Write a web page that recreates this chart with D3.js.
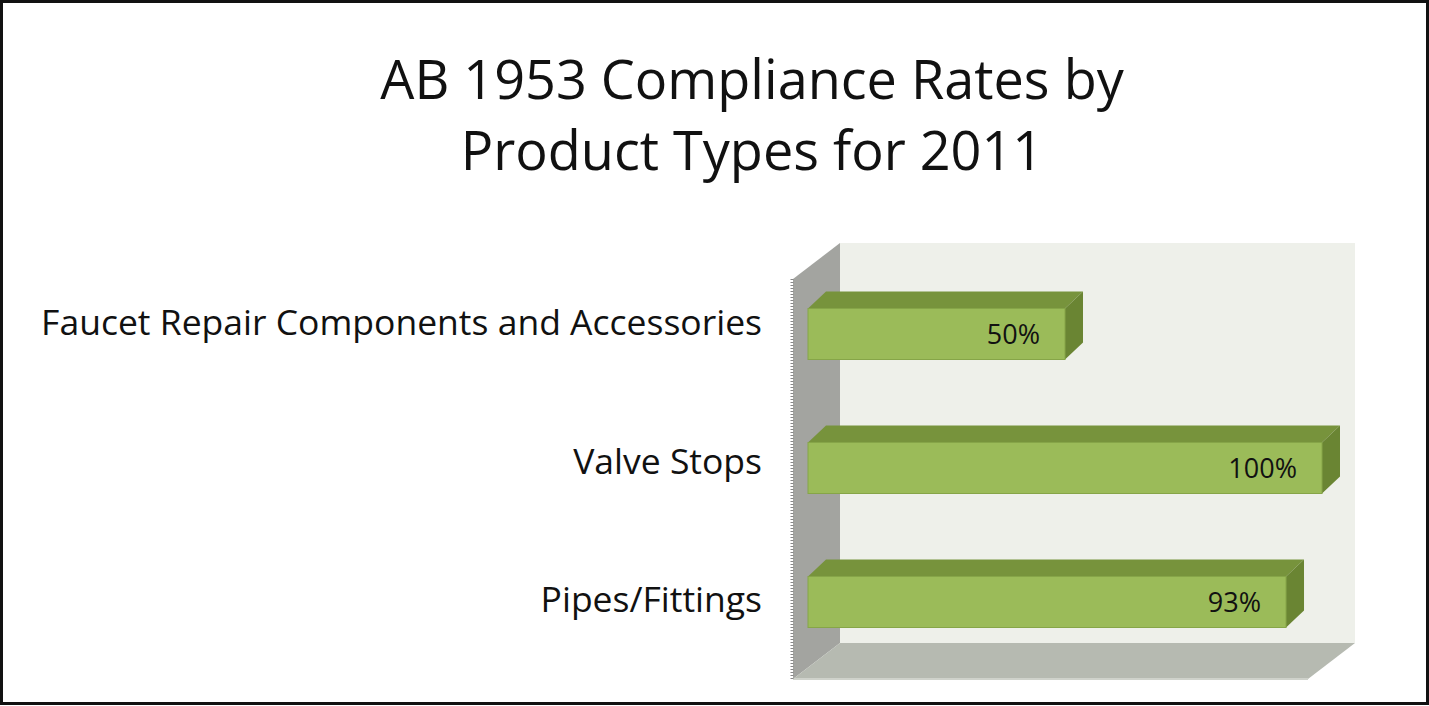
<!DOCTYPE html>
<html>
<head>
<meta charset="utf-8">
<script src="https://cdn.jsdelivr.net/npm/d3@7"></script>
<style>
  body { margin: 0; background: #fff; }
  text { font-family: "Open Sans", sans-serif; }
</style>
</head>
<body>
<script>
// chart data
var titleLines = ['AB 1953 Compliance Rates by', 'Product Types for 2011'];
var categories = ['Faucet Repair Components and Accessories', 'Valve Stops', 'Pipes/Fittings'];
var rates = [0.50, 1.00, 0.93];
var rateLabels = ['50%', '100%', '93%'];

var W = 1429, H = 706;

var svg = d3.select('body').append('svg')
  .attr('width', W)
  .attr('height', H);

// outer frame
svg.append('rect')
  .attr('x', 1.5).attr('y', 1.5)
  .attr('width', W - 3).attr('height', H - 4)
  .attr('fill', '#fff')
  .attr('stroke', '#111')
  .attr('stroke-width', 3);

// title
svg.selectAll('.title')
  .data(titleLines)
  .enter().append('text')
  .attr('class', 'title')
  .attr('x', 752)
  .attr('y', function(d, i){ return 99 + i * 71; })
  .attr('text-anchor', 'middle')
  .attr('font-size', 54)
  .attr('fill', '#111')
  .text(function(d){ return d; });

// scales
var x = d3.scaleLinear().domain([0, 1]).range([808, 1322]);
var y = d3.scalePoint().domain(categories).range([334, 602]);
var yLabel = d3.scalePoint().domain(categories).range([335, 612]);
var barH = 51;

// 3d box: wall depth
var wall = {left: 840, right: 1355, top: 243, bottom: 643, dx: 47, dy: 36};

// back wall
svg.append('rect')
  .attr('x', wall.left).attr('y', wall.top)
  .attr('width', wall.right - wall.left)
  .attr('height', wall.bottom - wall.top)
  .attr('fill', '#eef0ea');

// left side wall
svg.append('path')
  .attr('d', 'M' + wall.left + ',' + wall.top +
    'L' + (wall.left - wall.dx) + ',' + (wall.top + wall.dy) +
    'L' + (wall.left - wall.dx) + ',' + (wall.bottom + wall.dy) +
    'L' + wall.left + ',' + wall.bottom + 'Z')
  .attr('fill', '#a3a4a0');

// floor
svg.append('path')
  .attr('d', 'M' + wall.left + ',' + wall.bottom +
    'L' + wall.right + ',' + wall.bottom +
    'L' + (wall.right - wall.dx) + ',' + (wall.bottom + wall.dy) +
    'L' + (wall.left - wall.dx) + ',' + (wall.bottom + wall.dy) + 'Z')
  .attr('fill', '#b6bab1');
svg.append('line')
  .attr('x1', wall.left - wall.dx).attr('x2', wall.right - wall.dx)
  .attr('y1', wall.bottom + wall.dy).attr('y2', wall.bottom + wall.dy)
  .attr('stroke', '#cfd2cb').attr('stroke-width', 2);

// jagged edge of the side wall
svg.append('line')
  .attr('x1', wall.left - wall.dx - 1).attr('x2', wall.left - wall.dx - 1)
  .attr('y1', wall.top + wall.dy).attr('y2', wall.bottom + wall.dy)
  .attr('stroke', '#888')
  .attr('stroke-width', 3)
  .attr('stroke-dasharray', '1,2');

// bars
var bdx = 18, bdy = 17;
var bars = svg.selectAll('.bar')
  .data(rates)
  .enter().append('g')
  .attr('class', 'bar');

bars.append('path')
  .attr('d', function(d, i){
    var y0 = y(categories[i]) - barH / 2;
    return 'M' + x(0) + ',' + y0 + 'L' + (x(0) + bdx) + ',' + (y0 - bdy) +
      'L' + (x(d) + bdx) + ',' + (y0 - bdy) + 'L' + x(d) + ',' + y0 + 'Z';
  })
  .attr('fill', '#77933c');

bars.append('path')
  .attr('d', function(d, i){
    var y0 = y(categories[i]) - barH / 2;
    return 'M' + x(d) + ',' + y0 + 'L' + (x(d) + bdx) + ',' + (y0 - bdy) +
      'L' + (x(d) + bdx) + ',' + (y0 - bdy + barH) + 'L' + x(d) + ',' + (y0 + barH) + 'Z';
  })
  .attr('fill', '#6a8533');

bars.append('rect')
  .attr('x', x(0))
  .attr('y', function(d, i){ return y(categories[i]) - barH / 2; })
  .attr('width', function(d){ return x(d) - x(0); })
  .attr('height', barH)
  .attr('fill', '#9bbb59')
  .attr('stroke', '#86a548')
  .attr('stroke-width', 1);

bars.append('text')
  .attr('x', function(d){ return x(d) - 25; })
  .attr('y', function(d, i){ return y(categories[i]) + 10; })
  .attr('text-anchor', 'end')
  .attr('font-size', 27)
  .attr('fill', '#111')
  .text(function(d, i){ return rateLabels[i]; });

// category labels
svg.selectAll('.cat')
  .data(categories)
  .enter().append('text')
  .attr('class', 'cat')
  .attr('x', 762)
  .attr('y', function(d){ return yLabel(d); })
  .attr('text-anchor', 'end')
  .attr('font-size', 35.5)
  .attr('fill', '#111')
  .text(function(d){ return d; });
</script>
</body>
</html>
